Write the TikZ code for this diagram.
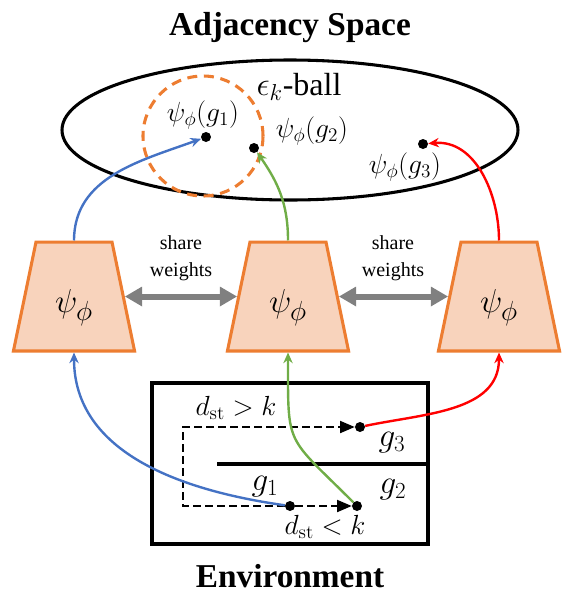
\documentclass[tikz,border=0pt]{standalone}
\usepackage[no-math]{fontspec}
\setmainfont{Liberation Serif}
\usepackage{tikz}
\usetikzlibrary{shapes.geometric,arrows.meta}
\definecolor{encorange}{HTML}{ED7D31}
\definecolor{encfill}{HTML}{F8D3BC}
\definecolor{flowblue}{HTML}{4472C4}
\definecolor{flowgreen}{HTML}{70AD47}
\definecolor{flowred}{HTML}{FF0000}

\begin{document}
\begin{tikzpicture}[
        x=0.75pt, y=-0.75pt,
        enc/.style={
            trapezium,
            trapezium angle=78.3,
            text width=57pt,
            align=center,
            inner xsep=0pt,
            inner ysep=19.6pt,
            text height=33.2pt,
            text depth=9.3pt,
            draw=encorange,
            fill=encfill,
            line width=2.3pt,
            font=\fontsize{31}{36}\selectfont
        },
        dot/.style={
            circle,
            fill=black,
            inner sep=0pt,
            minimum size=7.5pt
        },
        flow/.style={
            -{Stealth[length=8pt,width=7pt]},
            line width=1.8pt
        },
        share/.style={
            {Triangle[length=13pt,width=14pt]}-{Triangle[length=13pt,width=14pt]},
            line width=4.5pt,
            gray
        },
        envpath/.style={
            dash pattern=on 5.5pt off 3.5pt,
            line width=1.4pt
        },
        lbl/.style={
            inner sep=1pt,
            font=\fontsize{22}{26}\selectfont
        },
        title/.style={
            font=\fontsize{25}{30}\selectfont\bfseries
        }
    ]
    \useasboundingbox (0,0) rectangle (582,601);

    \node[title] (ttl) at (290,28) {Adjacency Space};
    \node[title] (envttl) at (290,576) {Environment};

    % embedding space
    \node[draw, ellipse, line width=2.3pt, minimum width=342pt, minimum height=105pt] (space) at (290,130) {};
    \node[circle, draw=encorange, dash pattern=on 7.5pt off 5pt, line width=2.3pt, minimum size=90pt] (ball) at (203,136) {};
    \node[lbl, font=\fontsize{24}{28}\selectfont] (balltxt) at (299,87) {$\epsilon_k$-ball};

    \node[dot] (e1) at (206,137) {};
    \node[dot] (e2) at (254,148) {};
    \node[dot] (e3) at (423,144) {};
    \node[lbl] (e1txt) at (203,115) {$\psi_\phi(g_1)$};
    \node[lbl] (e2txt) at (312,131) {$\psi_\phi(g_2)$};
    \node[lbl] (e3txt) at (405,167) {$\psi_\phi(g_3)$};

    % encoders
    \node[enc] (enc1) at (74,296.5) {$\psi_\phi$};
    \node[enc] (enc2) at (288,296.5) {$\psi_\phi$};
    \node[enc] (enc3) at (499,296.5) {$\psi_\phi$};
    \node[align=center, font=\fontsize{15}{20}\selectfont] (sw1) at (181,258) {share\\weights};
    \node[align=center, font=\fontsize{15}{20}\selectfont] (sw2) at (393,258) {share\\weights};
    \draw[share] (enc1.east) -- (enc2.west);
    \draw[share] (enc2.east) -- (enc3.west);

    % environment
    \node[draw, line width=2.6pt, minimum width=207pt, minimum height=120.75pt] (env) at (290,463.5) {};
    \coordinate (wall) at (217,464);
    \draw[line width=2.3pt] (wall) -- (wall -| env.east);

    \node[dot] (g1) at (290,506) {};
    \node[dot] (g2) at (357,506) {};
    \node[dot] (g3) at (360,427) {};
    \coordinate (turn) at (183,506);
    \node[lbl, font=\fontsize{26}{30}\selectfont] (g1txt) at (265,487) {$g_1$};
    \node[lbl, font=\fontsize{26}{30}\selectfont] (g2txt) at (393,490) {$g_2$};
    \node[lbl, font=\fontsize{26}{30}\selectfont] (g3txt) at (392,443) {$g_3$};
    \node[lbl] (far) at (236,408) {$d_{\mathrm{st}} > k$};
    \node[lbl] (near) at (325,527) {$d_{\mathrm{st}} < k$};

    \draw[envpath, -{Triangle[length=11pt,width=9pt]}] (g1) -- (turn) |- (g3);
    \draw[envpath, -{Triangle[length=11pt,width=9pt]}] (g1) -- (g2);

    % encodings
    \draw[flow, flowblue] (g1) to[out=172, in=-90] (enc1.south);
    \draw[flow, flowblue] (enc1.north) to[out=90, in=200] (e1);
    \draw[flow, flowgreen] (g2) to[out=135, in=-90, looseness=1.5] (enc2.south);
    \draw[flow, flowgreen] (enc2.north) to[out=90, in=-55] (e2);
    \draw[flow, flowred] (g3) to[out=12, in=-90] (enc3.south);
    \draw[flow, flowred] (enc3.north) to[out=90, in=5] (e3);

\end{tikzpicture}
\end{document}
